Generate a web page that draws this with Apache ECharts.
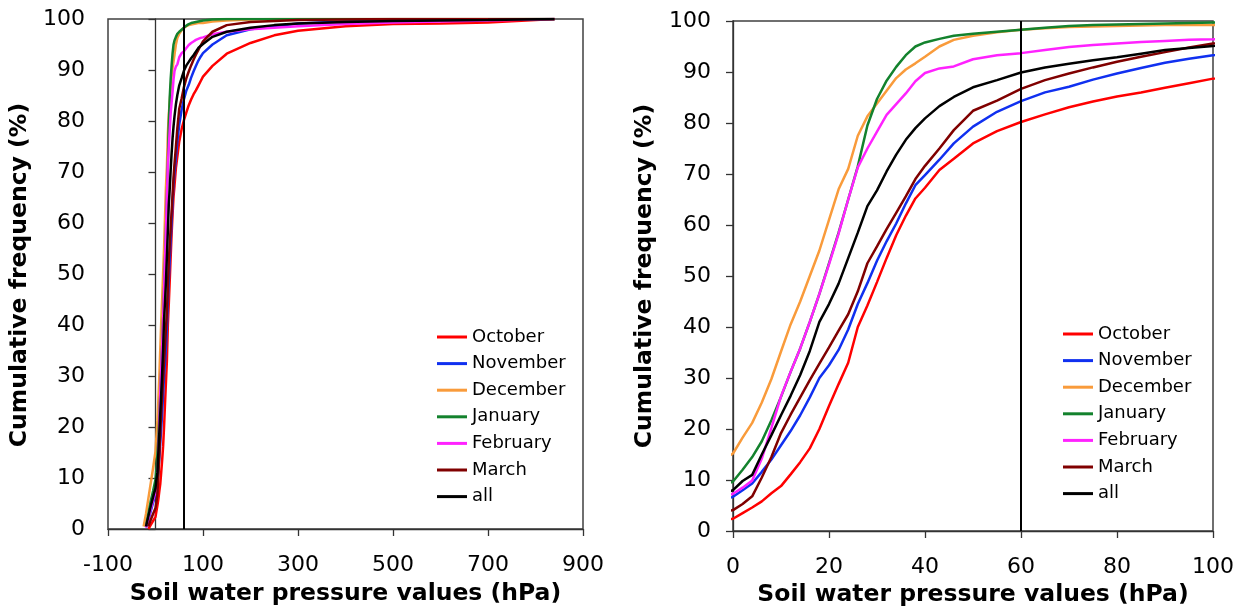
<!DOCTYPE html>
<html>
<head>
<meta charset="utf-8">
<script src="https://cdn.jsdelivr.net/npm/echarts@6/dist/echarts.min.js"></script>
<style>
  html, body { margin: 0; padding: 0; background: #fff; }
  #chart { width: 1242px; height: 610px; }
</style>
</head>
<body>
<div id="chart"></div>
<script>
// soil water pressure (hPa) and cumulative frequency (%) per month
const PRESSURE = [-25, -20, -15, -10, -5,
  0, 2, 4, 6, 8, 10, 12, 14, 16, 18, 20, 22, 24, 26, 28, 30, 32, 34, 36, 38, 40,
  43, 46, 50, 55, 60, 65, 70, 75, 80, 85, 90, 95, 100,
  120, 150, 200, 250, 300, 400, 500, 600, 700, 840];

const OCTOBER = [null, null, 0, 0.8, 1.6,
  2.4, 3.5, 4.6, 5.8, 7.4, 8.8, 11.1, 13.5, 16.2, 20, 24.5, 28.8, 33, 40, 44.2, 48.8, 53.5, 58, 61.8, 65.2, 67.3,
  70.8, 73, 76, 78.4, 80.2, 81.7, 83.1, 84.2, 85.2, 86, 86.9, 87.8, 88.7,
  90.8, 93.2, 95.3, 96.8, 97.7, 98.6, 99, 99.1, 99.3, 100];
const NOVEMBER = [null, 0.3, 1.8, 3.5, 5.2,
  6.7, 8, 9.3, 11.6, 14, 16.8, 19.6, 22.7, 26.2, 30, 32.5, 35.5, 39.5, 44.5, 48.6, 53, 56.8, 60.3, 64.2, 67.8, 69.8,
  72.8, 76, 79.3, 82.2, 84.3, 86, 87.1, 88.5, 89.7, 90.8, 91.8, 92.6, 93.3,
  95, 96.8, 98, 98.6, 99.1, 99.5, 99.7, 99.8, 99.9, 100];
const DECEMBER = [0.5, 3, 6, 9, 12,
  15.2, 18.3, 21.2, 25.2, 29.8, 35.2, 40.5, 45, 50, 55, 61, 67, 71, 77.5, 81.3, 83.8, 86.3, 88.8, 90.5, 91.7, 93,
  95, 96.3, 97.1, 97.8, 98.3, 98.6, 98.8, 98.9, 99, 99.1, 99.2, 99.2, 99.2,
  99.5, 99.7, 99.9, 100, 100, 100, 100, 100, 100, 100];
const JANUARY = [null, 0.5, 3, 5.5, 7.5,
  9.7, 12, 14.5, 17.6, 21.7, 26.3, 31.2, 35.8, 41, 46.5, 52.5, 58.5, 65, 71.5, 79.5, 84.7, 88.3, 91, 93.3, 95, 95.8,
  96.5, 97.1, 97.5, 97.9, 98.3, 98.7, 99, 99.2, 99.3, 99.4, 99.5, 99.6, 99.7,
  99.9, 100, 100, 100, 100, 100, 100, 100, 100, 100];
const FEBRUARY = [null, 0.3, 2, 4, 5.7,
  7.3, 8.5, 9.9, 14.2, 20.2, 26.4, 31.2, 35.8, 41, 46.5, 52.3, 58.3, 65, 71.3, 75, 78.3, 81.6, 83.7, 85.8, 88.2, 89.8,
  90.7, 91.1, 92.5, 93.3, 93.7, 94.3, 94.9, 95.3, 95.6, 95.9, 96.1, 96.3, 96.4,
  97, 97.5, 98, 98.3, 98.6, 99, 99.3, 99.5, 99.7, 100];
const MARCH = [null, null, 0.5, 1.8, 3,
  4.1, 5.3, 6.8, 10.5, 14.5, 19.2, 22.8, 26.2, 29.6, 32.8, 36, 39.3, 42.5, 47, 52.5, 55.8, 59.2, 62.4, 65.6, 69, 71.6,
  75, 78.6, 82.4, 84.4, 86.7, 88.4, 89.7, 90.9, 92, 93, 93.9, 94.8, 95.6,
  97.5, 98.8, 99.4, 99.6, 99.8, 99.9, 100, 100, 100, 100];
const ALL = [null, 0.5, 2.5, 4.5, 6.3,
  8, 9.8, 11, 15, 18.8, 22.7, 26.5, 30.6, 35.3, 41, 44.5, 48.5, 53.5, 58.5, 63.7, 66.8, 70.5, 73.8, 76.7, 79, 80.9,
  83.3, 85.1, 87, 88.4, 89.9, 90.9, 91.6, 92.3, 92.9, 93.6, 94.3, 94.7, 95.1,
  96.5, 97.5, 98.3, 98.8, 99.1, 99.4, 99.6, 99.7, 99.8, 100];

const NAMES = ['October', 'November', 'December', 'January', 'February', 'March', 'all'];
const VALUES = [OCTOBER, NOVEMBER, DECEMBER, JANUARY, FEBRUARY, MARCH, ALL];
const COLORS = ['#FF0000', '#1030F0', '#F99B3B', '#13822D', '#FF22FF', '#800000', '#000000'];
const THRESHOLD = 60;

const FONT = '"DejaVu Sans", Verdana, sans-serif';
const chart = echarts.init(document.getElementById('chart'), null, { renderer: 'canvas' });

function pairs(vals) {
  return PRESSURE.map((p, i) => [p, vals[i]]).filter(d => d[1] != null);
}

function makeSeries(gi) {
  return NAMES.map((name, k) => {
    const s = {
      name: name,
      type: 'line',
      xAxisIndex: gi,
      yAxisIndex: gi,
      data: pairs(VALUES[k]),
      symbol: 'none',
      showSymbol: false,
      clip: true,
      lineStyle: { color: COLORS[k], width: 2.5 },
      itemStyle: { color: COLORS[k] }
    };
    if (name === 'all') {
      s.markLine = {
        silent: true,
        symbol: ['none', 'none'],
        label: { show: false },
        lineStyle: { color: '#000', width: 2, type: 'solid' },
        data: [{ xAxis: THRESHOLD }]
      };
    }
    return s;
  });
}

const axisLine = { show: true, onZero: true, lineStyle: { color: '#333', width: 1.3 } };
const axisTick = { show: true, length: 7, lineStyle: { color: '#333', width: 1.3 } };
const labelStyle = { color: '#000', fontSize: 22, fontFamily: FONT };

const legendBase = {
  orient: 'vertical',
  icon: 'rect',
  itemWidth: 30,
  itemHeight: 3,
  itemGap: 8.6,
  data: NAMES,
  textStyle: { color: '#000', fontSize: 18, fontFamily: FONT, lineHeight: 18 }
};

const option = {
  animation: false,
  backgroundColor: '#fff',
  grid: [
    { left: 108, top: 19, width: 475, height: 510, show: true, borderColor: '#404040', borderWidth: 1.5, backgroundColor: 'transparent' },
    { left: 733, top: 21, width: 480, height: 510, show: true, borderColor: '#404040', borderWidth: 1.5, backgroundColor: 'transparent' }
  ],
  xAxis: [
    { gridIndex: 0, type: 'value', min: -100, max: 900, interval: 200,
      axisLine, axisTick, splitLine: { show: false },
      axisLabel: Object.assign({ margin: 25 }, labelStyle) },
    { gridIndex: 1, type: 'value', min: 0, max: 100, interval: 20,
      axisLine, axisTick, splitLine: { show: false },
      axisLabel: Object.assign({ margin: 25 }, labelStyle) }
  ],
  yAxis: [
    { gridIndex: 0, type: 'value', min: 0, max: 100, interval: 10,
      axisLine, axisTick, splitLine: { show: false },
      axisLabel: Object.assign({ margin: 23 }, labelStyle) },
    { gridIndex: 1, type: 'value', min: 0, max: 100, interval: 10,
      axisLine, axisTick, splitLine: { show: false },
      axisLabel: Object.assign({ margin: 22 }, labelStyle) }
  ],
  legend: [
    Object.assign({ left: 432, top: 323 }, legendBase),
    Object.assign({ left: 1058, top: 320 }, legendBase)
  ],
  graphic: [
    { type: 'text', x: 20, y: 275, rotation: Math.PI / 2,
      style: { text: 'Cumulative frequency (%)', font: 'bold 23.5px ' + FONT, fill: '#000',
        align: 'center', verticalAlign: 'middle', textAlign: 'center', textVerticalAlign: 'middle' } },
    { type: 'text', x: 645, y: 276, rotation: Math.PI / 2,
      style: { text: 'Cumulative frequency (%)', font: 'bold 23.5px ' + FONT, fill: '#000',
        align: 'center', verticalAlign: 'middle', textAlign: 'center', textVerticalAlign: 'middle' } },
    { type: 'text', x: 345.5, y: 594,
      style: { text: 'Soil water pressure values (hPa)', font: 'bold 23.5px ' + FONT, fill: '#000',
        align: 'center', verticalAlign: 'middle', textAlign: 'center', textVerticalAlign: 'middle' } },
    { type: 'text', x: 973, y: 595,
      style: { text: 'Soil water pressure values (hPa)', font: 'bold 23.5px ' + FONT, fill: '#000',
        align: 'center', verticalAlign: 'middle', textAlign: 'center', textVerticalAlign: 'middle' } }
  ],
  series: makeSeries(0).concat(makeSeries(1))
};

chart.setOption(option);
</script>
</body>
</html>
